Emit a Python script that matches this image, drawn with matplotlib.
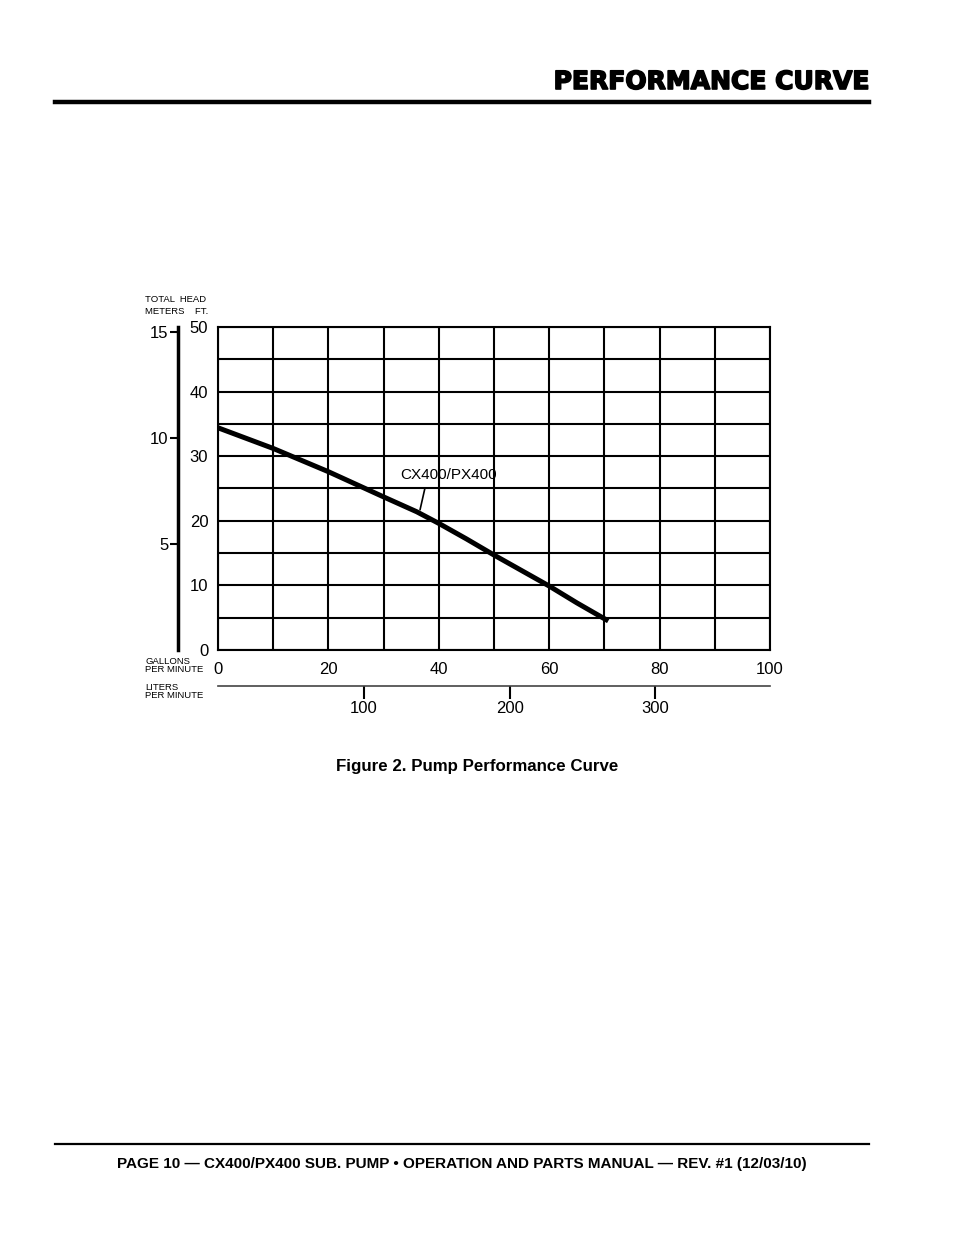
import matplotlib
matplotlib.use("Agg")
import matplotlib.pyplot as plt
import matplotlib.patheffects as pe

# performance curve
gpm = [0, 10, 20, 30, 36, 40, 45, 50, 55, 60, 65, 70.7]
head_ft = [34.4, 31.2, 27.6, 23.7, 21.4, 19.6, 17.2, 14.7, 12.3, 9.9, 7.3, 4.5]

ft_ticks = [0, 10, 20, 30, 40, 50]
m_ticks = [5, 10, 15]
gpm_ticks = [0, 20, 40, 60, 80, 100]
lpm_ticks = [100, 200, 300]

FT_PER_M = 3.2808
L_PER_GAL = 3.7854

plt.rcParams['font.family'] = ['Liberation Sans', 'DejaVu Sans']

W, H = 954, 1235
fig = plt.figure(figsize=(W / 100, H / 100), dpi=100)

def fx(px):
    return px / W

def fy(py):
    return 1 - py / H

# header / footer
fig.text(fx(869), fy(82), "PERFORMANCE CURVE", ha="right", va="center",
         fontsize=18, fontweight="heavy", family="DejaVu Sans",
         path_effects=[pe.withStroke(linewidth=1.2, foreground="black")])
fig.add_artist(plt.Line2D([fx(55), fx(869)], [fy(102), fy(102)], color="black", lw=3.2))
fig.add_artist(plt.Line2D([fx(55), fx(869)], [fy(1144), fy(1144)], color="black", lw=1.6))
fig.text(fx(462), fy(1164),
         "PAGE 10 \u2014 CX400/PX400 SUB. PUMP \u2022 OPERATION AND PARTS MANUAL \u2014 REV. #1 (12/03/10)",
         ha="center", va="center", fontsize=11, fontweight="bold")
fig.text(fx(477), fy(766), "Figure 2. Pump Performance Curve", ha="center", va="center",
         fontsize=12.2, fontweight="bold")

# main chart
ax = fig.add_axes([fx(218), fy(650), (770 - 218) / W, (650 - 327) / H])
ax.plot(gpm, head_ft, color="black", lw=3.6, solid_capstyle="butt",
        solid_joinstyle="round", zorder=3)
ax.set_xlim(0, 100)
ax.set_ylim(0, 50)
ax.set_xticks(range(0, 101, 10))
ax.set_yticks(range(0, 51, 5))
ax.grid(True, color="black", lw=1.5)
ax.set_xticklabels([str(v) if v in gpm_ticks else "" for v in range(0, 101, 10)])
ax.set_yticklabels([str(v) if v in ft_ticks else "" for v in range(0, 51, 5)])
ax.tick_params(axis="x", length=0, labelsize=12, pad=9)
ax.tick_params(axis="y", length=0, labelsize=12, pad=7)
for s in ax.spines.values():
    s.set_linewidth(1.5)

ax.text(33, 27.1, "CX400/PX400", fontsize=11, ha="left", va="center")
ax.annotate("", xy=(36.6, 21.7), xytext=(37.5, 25.1),
            arrowprops=dict(arrowstyle="-", color="black", lw=1.2, shrinkA=0, shrinkB=0))

# meters scale
axm = ax.secondary_yaxis(-40 / 552, functions=(lambda f: f / FT_PER_M, lambda m: m * FT_PER_M))
axm.set_yticks(m_ticks)
axm.tick_params(length=6, width=1.5, labelsize=12, pad=1)
axm.spines["left"].set_linewidth(2.5)

# liters scale
axl = ax.secondary_xaxis(-36 / 323, functions=(lambda g: g * L_PER_GAL, lambda l: l / L_PER_GAL))
axl.set_xticks(lpm_ticks)
axl.tick_params(length=9, width=1.5, labelsize=12, pad=2)
axl.spines["bottom"].set_linewidth(1.2)
axl.spines["bottom"].set_color("#444444")

# small axis captions
small = dict(fontsize=6.8, ha="left", va="center")
fig.text(fx(145), fy(300), "TOTAL  HEAD", **small)
fig.text(fx(145), fy(311), "METERS    FT.", **small)
fig.text(fx(145), fy(662), "GALLONS", **small)
fig.text(fx(145), fy(670), "PER MINUTE", **small)
fig.text(fx(145), fy(687), "LITERS", **small)
fig.text(fx(145), fy(695), "PER MINUTE", **small)

fig.savefig("out.png", dpi=100)
